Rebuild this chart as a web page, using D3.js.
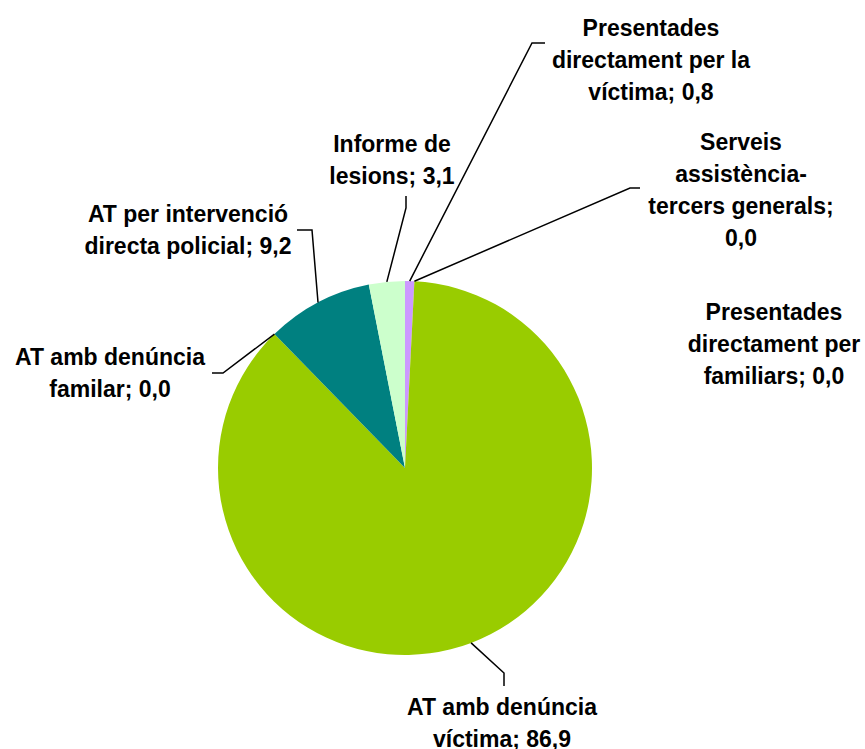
<!DOCTYPE html>
<html>
<head>
<meta charset="utf-8">
<script src="https://cdn.jsdelivr.net/npm/d3@7"></script>
<style>
  body { margin: 0; background: #fff; }
  svg text { font-family: "Liberation Sans", Arial, sans-serif; font-weight: bold; font-size: 23px; fill: #000; }
</style>
</head>
<body>
<div id="container"></div>
<script>
// categories in the sheet order (pie starts at 12 o'clock, clockwise)
let categories = [
    "Presentades directament per la víctima",
    "Serveis assistència-tercers generals",
    "Presentades directament per familiars",
    "AT amb denúncia víctima",
    "AT amb denúncia familar",
    "AT per intervenció directa policial",
    "Informe de lesions"
];
let values = [0.8, 0.0, 0.0, 86.9, 0.0, 9.2, 3.1];
let valueLabels = ["0,8", "0,0", "0,0", "86,9", "0,0", "9,2", "3,1"];
// how each label wraps in the picture
let labelLines = [
    ["Presentades", "directament per la", "víctima; "],
    ["Serveis", "assistència-", "tercers generals;", ""],
    ["Presentades", "directament per", "familiars; "],
    ["AT amb denúncia", "víctima; "],
    ["AT amb denúncia", "familar; "],
    ["AT per intervenció", "directa policial; "],
    ["Informe de", "lesions; "]
];
let colors = ["#CC99FF", "#FFFFFF", "#FFFFFF", "#99CC00", "#FFFFFF", "#008080", "#CCFFCC"];

let W = 865, H = 749;
let cx = 405, cy = 468, R = 187;
let lineH = 32;

// label placement: text centre x, first baseline y, leader elbow points (null = no leader)
let layout = [
    { x: 651, y: 36, leader: [[532, 43], [545, 43]] },
    { x: 741, y: 150, leader: [[630, 188], [640, 188]] },
    { x: 774, y: 320, leader: null },
    { x: 502, y: 715, leader: [[504, 673], [504, 686]] },
    { x: 110, y: 365, leader: [[223, 373], [212, 373]] },
    { x: 188, y: 222, leader: [[312, 230], [297, 230]] },
    { x: 392, y: 152, leader: [[406, 208], [406, 196]] }
];

let svg = d3.select('#container')
    .append('svg')
    .attr('width', W)
    .attr('height', H);

let pie = d3.pie().sort(null).value(d => d);
let arcs = pie(values);
let arc = d3.arc().innerRadius(0).outerRadius(R);

let g = svg.append('g').attr('transform', 'translate(' + cx + ',' + cy + ')');
g.selectAll('path')
    .data(arcs.filter(d => d.value > 0))
    .enter()
    .append('path')
    .attr('d', arc)
    .style('fill', d => colors[d.index]);

// leader lines from slice mid-point on the rim
arcs.forEach(function (d, i) {
    let L = layout[i];
    if (!L.leader) return;
    let a = (d.startAngle + d.endAngle) / 2;
    let pts = [[cx + R * Math.sin(a), cy - R * Math.cos(a)]].concat(L.leader);
    svg.append('path')
        .attr('d', d3.line()(pts))
        .style('fill', 'none')
        .style('stroke', '#000')
        .style('stroke-width', 1.5);
});

// labels
arcs.forEach(function (d, i) {
    let L = layout[i];
    let lines = labelLines[i].slice();
    lines[lines.length - 1] += valueLabels[i];
    let t = svg.append('text').attr('text-anchor', 'middle');
    lines.forEach(function (s, k) {
        t.append('tspan')
            .attr('x', L.x)
            .attr('y', L.y + k * lineH)
            .text(s);
    });
});
</script>
</body>
</html>
